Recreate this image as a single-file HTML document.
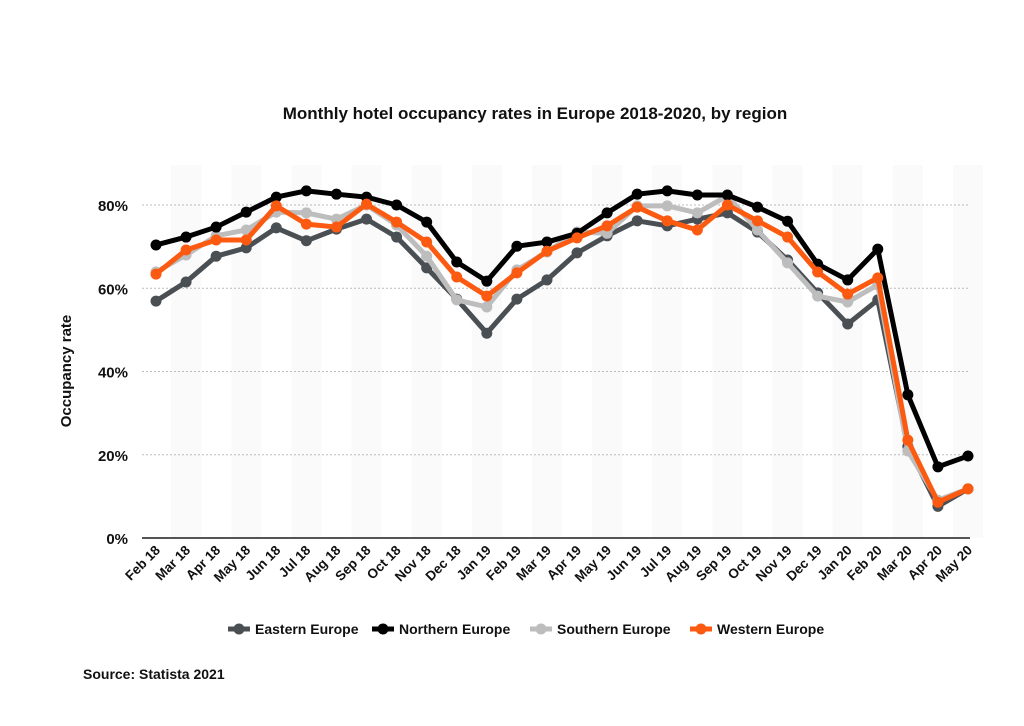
<!DOCTYPE html>
<html><head><meta charset="utf-8"><style>
body{margin:0;background:#fff;}
svg text{font-family:"Liberation Sans",sans-serif;}
</style></head><body>
<svg width="1024" height="721" viewBox="0 0 1024 721">
<text x="535" y="119" text-anchor="middle" font-size="17" font-weight="bold" fill="#111">Monthly hotel occupancy rates in Europe 2018-2020, by region</text>
<text transform="translate(71,371) rotate(-90)" text-anchor="middle" font-size="15" font-weight="bold" fill="#111">Occupancy rate</text>
<g id="bands"></g><g id="grid"></g><g id="xlabels"></g><g id="series"></g>
<g id="legend"></g>
<text x="83" y="679" font-size="14" font-weight="bold" fill="#111">Source: Statista 2021</text>
</svg>
<script>
const categories=["Feb 18","Mar 18","Apr 18","May 18","Jun 18","Jul 18","Aug 18","Sep 18","Oct 18","Nov 18","Dec 18","Jan 19","Feb 19","Mar 19","Apr 19","May 19","Jun 19","Jul 19","Aug 19","Sep 19","Oct 19","Nov 19","Dec 19","Jan 20","Feb 20","Mar 20","Apr 20","May 20"];
const eastern=[56.9,61.5,67.7,69.7,74.5,71.4,74.2,76.6,72.3,64.9,57.4,49.2,57.4,62,68.5,72.6,76.2,75,76.6,78.1,73.5,66.8,58.9,51.4,57.2,22,7.6,11.8];
const northern=[70.4,72.3,74.7,78.3,81.9,83.4,82.6,81.9,80,75.9,66.3,61.7,70.1,71.1,73.2,78.1,82.6,83.4,82.4,82.4,79.5,76.1,65.8,62,69.4,34.4,17.1,19.7];
const southern=[63.9,68,72.6,74,78.3,78.1,76.6,80,75.2,67.7,57.2,55.5,64.4,68.7,73.5,73.2,79.8,79.8,78.1,82.2,74,66.1,58.1,56.7,60.8,20.9,9.1,11.8];
const western=[63.4,69.2,71.6,71.6,79.8,75.4,74.7,80.2,75.9,71.1,62.7,58.1,63.7,68.9,72.1,75,79.5,76.2,74,80,76.2,72.3,63.9,58.6,62.5,23.5,8.6,11.8];
const yTicks=[0,20,40,60,80];
const seriesNames=["Eastern Europe","Northern Europe","Southern Europe","Western Europe"];
const NS="http://www.w3.org/2000/svg";
const step=812/27;
function xs(i){return 156+i*step;}
function ys(v){return 538-v*4.1625;}
function mk(tag,attrs,parent){const e=document.createElementNS(NS,tag);for(const k in attrs)e.setAttribute(k,attrs[k]);parent.appendChild(e);return e;}
const bands=document.getElementById('bands');
categories.forEach((c,i)=>{if(i%2===1){const r=mk('rect',{x:xs(i)-step/2,y:165,width:step,height:373,fill:'#fafafa'},bands);

}});
const grid=document.getElementById('grid');
yTicks.forEach(t=>{const y=ys(t);
const l=mk('line',{x1:142,x2:970,y1:y,y2:y,stroke:t===0?'#555':'#bbb','stroke-width':t===0?2:1,'stroke-dasharray':t===0?'':'2,2'},grid);


const tx=mk('text',{x:128,y:y+6,'text-anchor':'end','font-size':15,'font-weight':'bold',fill:'#111'},grid);tx.textContent=t+'%';

});
const xl=document.getElementById('xlabels');
categories.forEach((c,i)=>{const tx=mk('text',{transform:`translate(${xs(i)+5},${551}) rotate(-45)`,'text-anchor':'end','font-size':13.5,'font-weight':'bold',fill:'#111'},xl);tx.textContent=c;

});
const sg=document.getElementById('series');
const all=[[eastern,'#4a4f54','eastern-europe'],[southern,'#bdbdbd','southern-europe'],[northern,'#000','northern-europe'],[western,'#fb5a10','western-europe']];
all.forEach(([d,col,name])=>{const g=mk('g',{},sg);


const p=mk('polyline',{points:d.map((v,i)=>xs(i)+','+ys(v)).join(' '),fill:'none',stroke:col,'stroke-width':5,'stroke-linejoin':'round'},g);


d.forEach((v,i)=>{const c=mk('circle',{cx:xs(i),cy:ys(v),r:5.5,fill:col},g);

});});
const lg=document.getElementById('legend');
const lc=['#4a4f54','#000','#bdbdbd','#fb5a10'];const lx=[228,372,530,690];
seriesNames.forEach((n,i)=>{const g=mk('g',{},lg);


mk('line',{x1:lx[i],x2:lx[i]+22,y1:629,y2:629,stroke:lc[i],'stroke-width':5},g);
mk('circle',{cx:lx[i]+11,cy:629,r:5.5,fill:lc[i]},g);
const t=mk('text',{x:lx[i]+27,y:634,'font-size':14,'font-weight':'bold',fill:'#111'},g);t.textContent=n;});
</script>
</body></html>
